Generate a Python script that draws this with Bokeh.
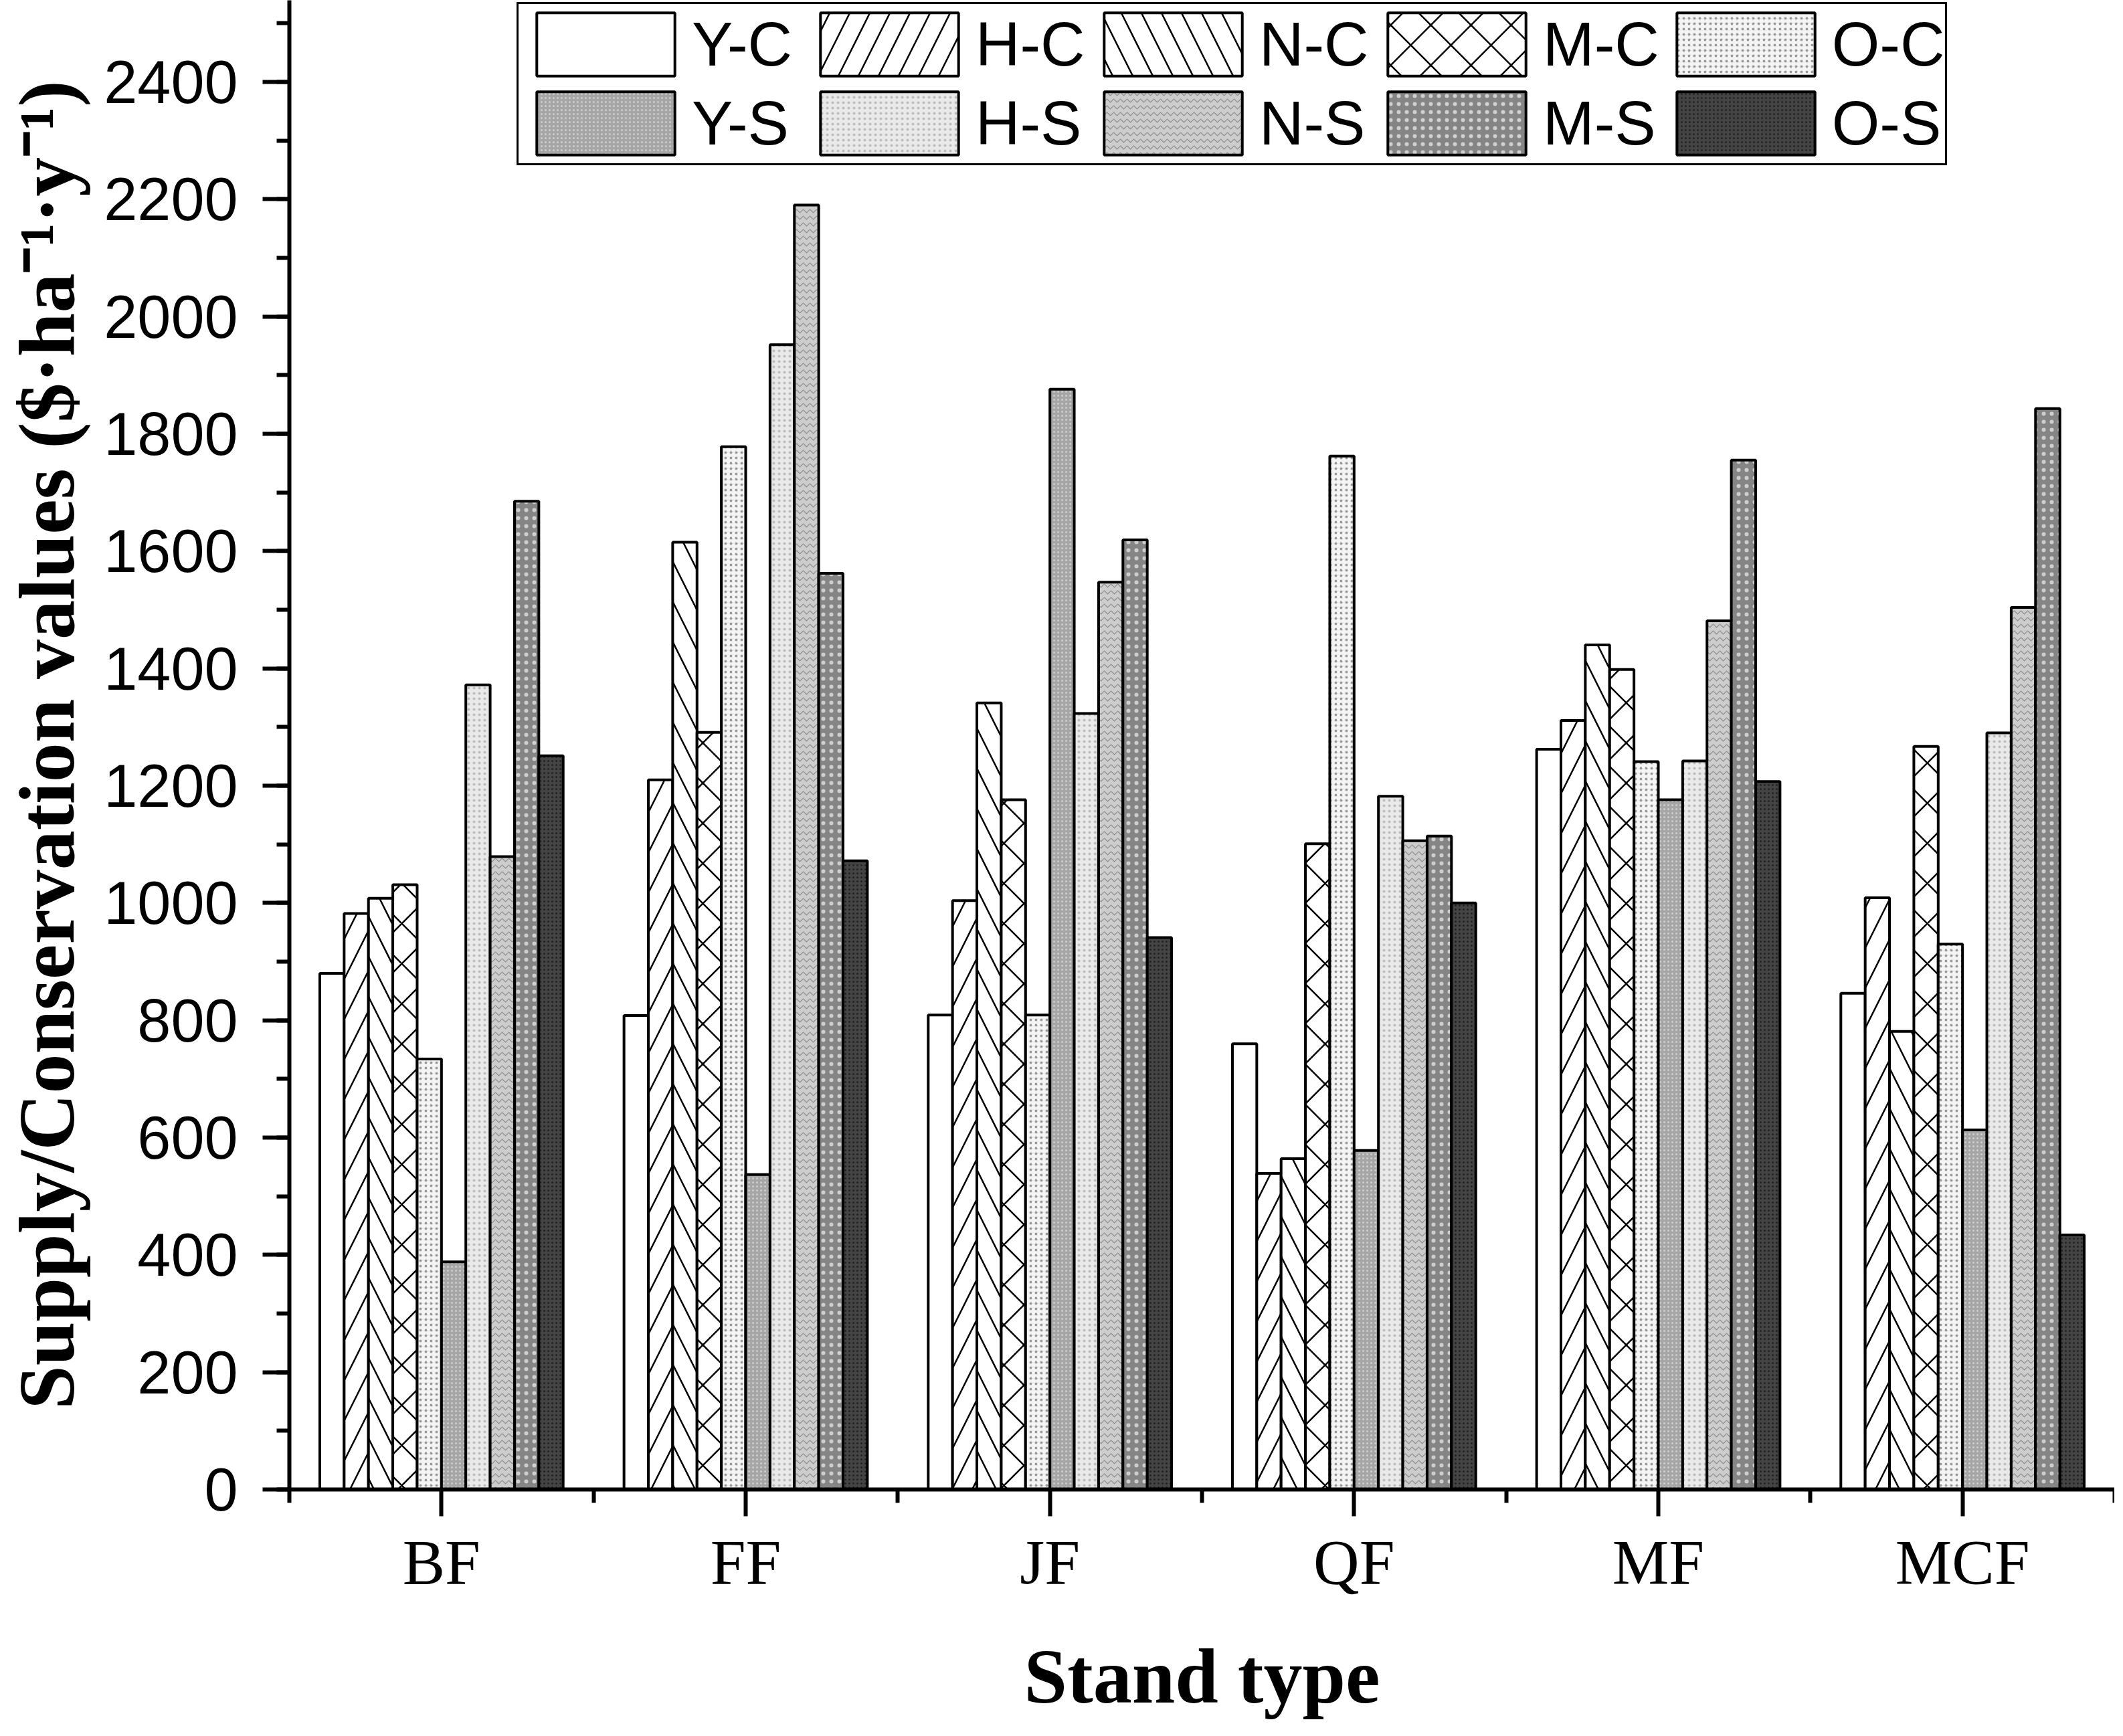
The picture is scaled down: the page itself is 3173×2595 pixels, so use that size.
from bokeh.plotting import figure
from bokeh.models import FixedTicker, Legend, LegendItem, Range1d
from bokeh.embed import file_html
from bokeh.resources import INLINE

# ---------------- data ----------------
stands = ["BF", "FF", "JF", "QF", "MF", "MCF"]
series = ["Y-C", "H-C", "N-C", "M-C", "O-C", "Y-S", "H-S", "N-S", "M-S", "O-S"]

Y_C = [880, 808, 809, 760, 1262, 846]
H_C = [982, 1210, 1004, 539, 1311, 1009]
N_C = [1008, 1615, 1341, 564, 1440, 781]
M_C = [1031, 1291, 1176, 1101, 1398, 1267]
O_C = [734, 1778, 809, 1762, 1241, 930]
Y_S = [388, 537, 1876, 578, 1176, 613]
H_S = [1372, 1952, 1323, 1182, 1242, 1290]
N_S = [1079, 2190, 1547, 1106, 1481, 1504]
M_S = [1685, 1562, 1619, 1114, 1755, 1843]
O_S = [1251, 1072, 941, 1000, 1207, 434]

values = [Y_C, H_C, N_C, M_C, O_C, Y_S, H_S, N_S, M_S, O_S]

y_ticks = list(range(0, 2401, 200))
y_minor = list(range(0, 2501, 100))

# ---------------- styles ----------------
fills = ["white", "white", "white", "white", "#f4f4f4",
         "#a6a6a6", "#e9e9e9", "#cdcdcd", "#858585", "#444444"]
hatches = [None, "/", "\\", "x", ".", ".", ".", "v", ".", "."]
hatch_colors = ["black", "black", "black", "black", "#9a9a9a",
                "#cfcfcf", "#bdbdbd", "#8c8c8c", "#cfcfcf", "#222222"]
hatch_scales = [12, 60, 60, 60, 8, 6, 8, 10, 12, 6]
hatch_weights = [1, 2.5, 2.5, 2.5, 1.2, 1, 1.2, 1.2, 2, 1]

W, H = 3160, 2580
BL, BR, BT, BB = 432, 0, 0, 354

p = figure(width=W, height=H, x_range=Range1d(0, 6), y_range=Range1d(0, 2539),
           output_backend="svg", toolbar_location=None,
           min_border_left=BL, min_border_right=BR, min_border_top=BT, min_border_bottom=BB)
p.xgrid.visible = False
p.ygrid.visible = False
p.outline_line_color = None
p.background_fill_color = "white"
p.border_fill_color = "white"

n = len(series)
bw = 0.8 / n
items = []
for j, (name, vals) in enumerate(zip(series, values)):
    xs = [i + 0.5 + (j - (n - 1) / 2) * bw for i in range(len(stands))]
    kw = dict(fill_color=fills[j], line_color="black", line_width=4)
    if hatches[j]:
        kw.update(hatch_pattern=hatches[j], hatch_color=hatch_colors[j],
                  hatch_scale=hatch_scales[j], hatch_weight=hatch_weights[j])
    r = p.vbar(x=xs, top=vals, width=bw, bottom=0, **kw)
    items.append(LegendItem(label=name, renderers=[r]))

# ---------------- axes ----------------
p.xaxis.ticker = FixedTicker(ticks=[i + 0.5 for i in range(len(stands))],
                             minor_ticks=list(range(len(stands) + 1)))
p.xaxis.major_label_overrides = {i + 0.5: s for i, s in enumerate(stands)}
p.yaxis.ticker = FixedTicker(ticks=y_ticks, minor_ticks=y_minor)

for ax in (p.xaxis[0], p.yaxis[0]):
    ax.axis_line_width = 6
    ax.major_tick_line_width = 6
    ax.minor_tick_line_width = 6
    ax.major_tick_in = 0
    ax.minor_tick_in = 0
    ax.axis_line_color = "black"
    ax.major_tick_line_color = "black"
    ax.minor_tick_line_color = "black"
    ax.major_label_text_color = "black"
    ax.axis_label_text_color = "black"

p.xaxis.major_tick_out = 40
p.xaxis.minor_tick_out = 20
p.yaxis.major_tick_out = 40
p.yaxis.minor_tick_out = 19

p.xaxis.major_label_text_font = "Liberation Serif"
p.xaxis.major_label_text_font_size = "95px"
p.xaxis.major_label_standoff = 16
p.yaxis.major_label_text_font = "Liberation Sans"
p.yaxis.major_label_text_font_size = "90px"
p.yaxis.major_label_standoff = 37

p.xaxis.axis_label = "Stand type"
p.xaxis.axis_label_text_font = "Liberation Serif"
p.xaxis.axis_label_text_font_style = "bold"
p.xaxis.axis_label_text_font_size = "116px"
p.xaxis.axis_label_standoff = 50

p.yaxis.axis_label = "Supply/Conservation values ($·ha⁻¹·y⁻¹)"
p.yaxis.axis_label_text_font = "Liberation Serif"
p.yaxis.axis_label_text_font_style = "bold"
p.yaxis.axis_label_text_font_size = "118px"
p.yaxis.axis_label_standoff = 16

# ---------------- legend ----------------
frame_h = H - BT - BB
legend = Legend(items=items, orientation="horizontal", ncols=5,
                location=(340, frame_h - 247),
                glyph_width=258, glyph_height=118,
                label_text_font="Liberation Sans", label_text_font_size="92px",
                label_text_color="black",
                label_standoff=0, label_width=166, label_height=100,
                spacing=0, padding=1, margin=0,
                border_line_color="black", border_line_width=3, border_line_alpha=1.0,
                background_fill_color="white", background_fill_alpha=1.0)
p.add_layout(legend)

open("out.html", "w").write(file_html(p, INLINE))
